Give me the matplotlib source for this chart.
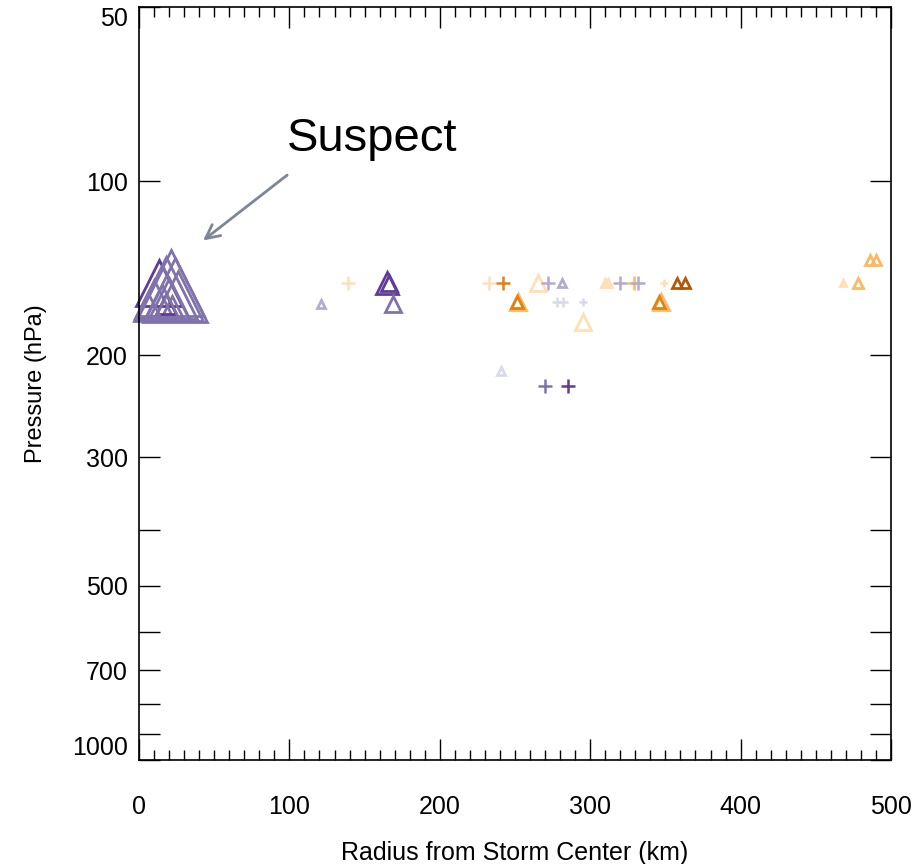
import matplotlib
matplotlib.use("Agg")
import matplotlib.pyplot as plt
from matplotlib.ticker import FixedLocator, NullFormatter, MultipleLocator

plt.rcParams['font.family'] = ['Liberation Sans', 'DejaVu Sans']

# PuOr-like palette used for the observations
palette = {
    'dpur': '#5e3c99',
    'mpur': '#8073ac',
    'lpur': '#b2abd2',
    'lav': '#d8daeb',
    'lorg': '#fee0b6',
    'org': '#fdb863',
    'dorg': '#e08214',
    'brn': '#b35806',
}

# ---- data ----
radius = [13, 18, 21, 24, 16, 20, 10, 22, 18, 6, 26, 15,
          139, 121, 165, 166, 169,
          233, 242, 265, 272, 281, 310, 252, 251, 278, 282, 295, 295,
          312, 320, 329, 332, 349, 358, 363, 347, 346,
          486, 490, 468, 478,
          241, 270, 285]
pressure = [150, 153, 150, 154, 156, 160, 160, 165, 163, 165, 158, 162,
            150, 163, 150, 150, 163,
            150, 150, 150, 150, 150, 150, 162, 162, 162, 162, 162, 175,
            150, 150, 150, 150, 150, 150, 150, 162, 162,
            137, 137, 150, 150,
            213, 226, 226]
kind = ['tri'] * 12 + \
       ['plus', 'tri', 'tri', 'tri', 'tri'] + \
       ['plus', 'plus', 'tri', 'plus', 'tri', 'tri', 'tri', 'tri', 'plus', 'plus', 'plus', 'tri'] + \
       ['tri', 'plus', 'plus', 'plus', 'plus', 'tri', 'tri', 'tri', 'tri'] + \
       ['tri', 'tri', 'tri', 'tri'] + \
       ['tri', 'plus', 'plus']
colour = ['dpur', 'mpur', 'mpur', 'mpur', 'mpur', 'mpur', 'mpur', 'mpur', 'dpur', 'mpur', 'mpur', 'mpur',
          'lorg', 'lpur', 'dpur', 'dpur', 'mpur',
          'lorg', 'dorg', 'lorg', 'lpur', 'lpur', 'lorg', 'org', 'dorg', 'lav', 'lav', 'lav', 'lorg',
          'lorg', 'lpur', 'org', 'lpur', 'lorg', 'brn', 'brn', 'org', 'dorg',
          'org', 'org', 'lorg', 'org',
          'lav', 'mpur', 'dpur']
size = [33, 44, 47, 46, 38, 30, 28, 16, 14, 20, 36, 24,
        10, 6, 16, 12, 11,
        10, 10, 11, 10, 6, 6, 11, 8, 7, 7, 6, 11,
        6, 10, 10, 10, 6, 7, 7, 11, 8,
        7, 7, 5, 7,
        6, 10, 10]

yticks_major = [50, 100, 200, 300, 500, 700, 1000]
yticks_minor = [400, 600, 800, 900]

fig = plt.figure(figsize=(9.24, 8.64), dpi=100)
ax = fig.add_axes([139 / 924, 1 - 760 / 864, (891 - 139) / 924, (760 - 7) / 864])

for r, p, k, c, s in zip(radius, pressure, kind, colour, size):
    if k == 'tri':
        ax.plot(r, p, marker='^', markersize=s, markerfacecolor='none',
                markeredgecolor=palette[c], markeredgewidth=2.0, linestyle='none',
                clip_on=False)
    else:
        ax.plot(r, p, marker='+', markersize=s, color=palette[c],
                markeredgewidth=1.8, linestyle='none', clip_on=False)

ax.set_yscale('log')
ax.set_ylim(1000, 50)
ax.set_xlim(0, 500)
ax.yaxis.set_major_locator(FixedLocator(yticks_major))
ax.yaxis.set_minor_locator(FixedLocator(yticks_minor))
ax.set_yticklabels([str(v) for v in yticks_major])
ax.yaxis.set_minor_formatter(NullFormatter())
ax.xaxis.set_major_locator(MultipleLocator(100))
ax.xaxis.set_minor_locator(MultipleLocator(10))

ax.tick_params(axis='x', which='major', direction='in', length=15, width=1,
               top=True, labelsize=18, pad=25)
ax.tick_params(axis='x', which='minor', direction='in', length=7, width=1, top=True)
ax.tick_params(axis='y', which='both', direction='in', length=15, width=1,
               right=True, labelsize=18, pad=8)
for sp in ax.spines.values():
    sp.set_linewidth(1.2)

labels = ax.get_yticklabels()
labels[0].set_va('top')
labels[-1].set_va('bottom')

ax.set_xlabel('Radius from Storm Center (km)', fontsize=18, labelpad=16)
ax.set_ylabel('Pressure (hPa)', fontsize=17, labelpad=18)

ax.annotate('', xy=(42.6, 126.6), xytext=(98.5, 97.6),
            arrowprops=dict(arrowstyle='->', color='#7d8696', lw=2,
                            mutation_scale=25, shrinkA=0, shrinkB=0))
ax.text(155, 84.5, 'Suspect', fontsize=34, ha='center', va='center')

fig.savefig('out.png', dpi=100)
